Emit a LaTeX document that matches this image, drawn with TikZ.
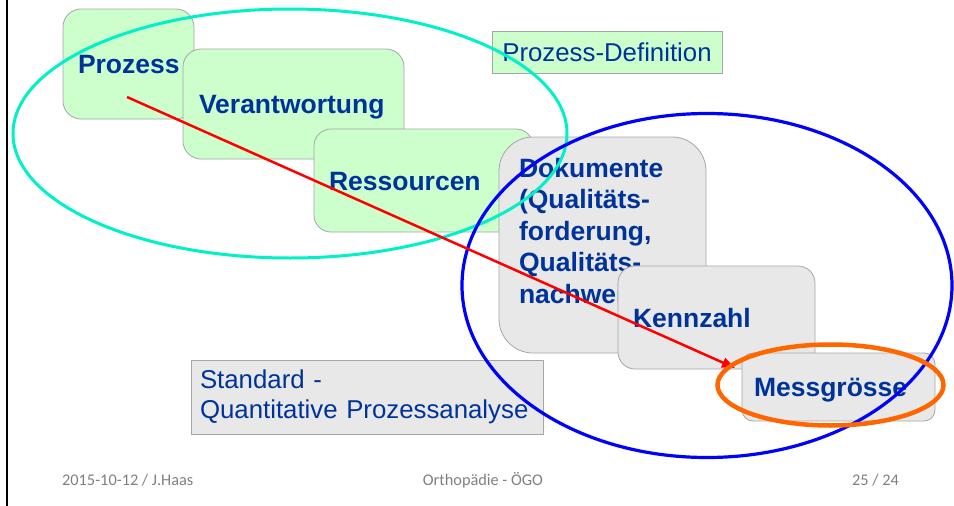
\documentclass[tikz,border=0pt]{standalone}
\usepackage{fontspec}
\setmainfont{Liberation Sans}
\newfontfamily\footfont{Carlito}
\usetikzlibrary{arrows.meta}

\definecolor{txtblue}{HTML}{003399}
\definecolor{boxgreen}{HTML}{CCFFCC}
\definecolor{boxgray}{HTML}{E8E8E8}
\definecolor{boxline}{HTML}{A6A6A6}
\definecolor{turq}{HTML}{00F0C8}
\definecolor{orng}{HTML}{FF6600}
\definecolor{footgray}{HTML}{808080}

\begin{document}
\begin{tikzpicture}[x = 1pt, y = -1pt,
		boxbase/.style = {draw = boxline, line width = .8pt, text = txtblue, inner ysep = 0pt, font = \fontsize{26.5}{31.5}\bfseries\selectfont},
		stepbox/.style = {boxbase, align = left, text height = 19pt, text depth = 0pt},
		labelbox/.style = {draw = boxline, line width = .8pt, text = txtblue, font = \fontsize{25.8}{30}\selectfont},
		foot/.style = {font = \footfont\fontsize{16.3}{18}\selectfont, text = footgray, inner sep = 0pt}]
		\useasboundingbox (0,0) rectangle (954,506);
		\draw [line width = 2.5pt] (7,0) -- (7,506); % left edge

		% steps, green part
		\node [stepbox, fill = boxgreen, rounded corners = 18pt, inner xsep = 15pt, text width = 101pt, minimum height = 110pt] (proz) at (128.5,64) {Prozess};
		\node [stepbox, fill = boxgreen, rounded corners = 18pt, inner xsep = 16pt, text width = 189pt, minimum height = 110pt] (verant) at (293.5,104) {Verantwortung};
		\node [stepbox, fill = boxgreen, rounded corners = 17pt, inner xsep = 15pt, text width = 189pt, minimum height = 103pt] (ress) at (423.5,180.5) {Ressourcen};

		% steps, gray part
		\node [boxbase, fill = boxgray, rounded corners = 34pt, inner xsep = 20pt, inner ysep = 21pt] (dok) at (602.5,245)
			{\parbox[c][174pt][t]{167pt}{\raggedright Dokumente\\(Qualitäts-\\forderung,\\Qualitäts-\\nachweis)}};
		\node [stepbox, fill = boxgray, rounded corners = 17pt, inner xsep = 15pt, text width = 167pt, minimum height = 103pt] (kenn) at (716.5,317.5) {Kennzahl};
		\node [stepbox, fill = boxgray, rounded corners = 11pt, inner xsep = 12pt, text width = 169pt, minimum height = 68pt] (mess) at (838.5,387) {Messgrösse};

		% labels
		\node [labelbox, fill = boxgreen, minimum width = 230pt, minimum height = 42pt] (pdef) at (607,52) {Prozess-Definition};
		\node [labelbox, fill = boxgray, align = left, text width = 334pt, inner xsep = 9pt, minimum height = 74pt] (std) at (367,397) {Standard -\\Quantitative Prozessanalyse};

		% groups
		\draw [turq, line width = 3pt] (290,133.5) ellipse [x radius = 277pt, y radius = 124.5pt];
		\draw [blue, line width = 3.2pt] (707,285.5) ellipse [x radius = 245pt, y radius = 172pt];

		\coordinate (from) at (127,97);
		\coordinate (to) at (735,368);
		\draw [red, line width = 2.5pt, -{Triangle[length = 13pt, width = 10pt]}] (from) -- (to);

		\draw [orng, line width = 4.5pt] (830.5,385) ellipse [x radius = 113pt, y radius = 40.5pt];

		% footer
		\node [foot, anchor = west] (date) at (62,480) {2015-10-12 / J.Haas};
		\node [foot] (title) at (483,480) {Orthopädie - ÖGO};
		\node [foot, anchor = east] (page) at (899,480) {25 / 24};
\end{tikzpicture}
\end{document}
